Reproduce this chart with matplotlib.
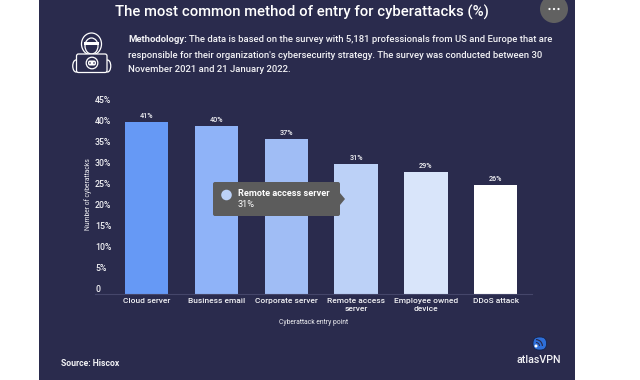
import matplotlib
matplotlib.use("Agg")
import matplotlib.pyplot as plt
from matplotlib.patches import Circle, Ellipse, FancyBboxPatch, Polygon, Rectangle, Wedge

categories = [
    "Cloud server",
    "Business email",
    "Corporate server",
    "Remote access\nserver",
    "Employee owned\ndevice",
    "DDoS attack",
]
values = [41, 40, 37, 31, 29, 26]
bar_colors = ["#6699f5", "#8fb3f8", "#a0bdf5", "#bcd1f7", "#d9e5fa", "#ffffff"]
tick_values = [0, 5, 10, 15, 20, 25, 30, 35, 40, 45]
tick_labels = ["0", "5%", "10%", "15%", "20%", "25%", "30%", "35%", "40%", "45%"]

W, H = 640, 380
NAVY = "#2a2b4d"
TEXT = "#f2f2f5"
GREY = "#5c5c5c"

plt.rcParams["font.family"] = ["Roboto", "DejaVu Sans"]

fig = plt.figure(figsize=(W / 100, H / 100), dpi=100, facecolor="white")

# overlay in pixel coordinates (y down) for panel, text and decorations
bg = fig.add_axes([0, 0, 1, 1])
bg.set_xlim(0, W)
bg.set_ylim(H, 0)
bg.axis("off")
bg.add_patch(Rectangle((38.5, 0), 536.5, H, fc=NAVY, ec="none"))

bg.text(302, 12, "The most common method of entry for cyberattacks (%)", color="white",
        fontsize=10.7, fontweight="medium", ha="center", va="center")

bg.text(128, 40, "Methodology:", color=TEXT, fontsize=6.8, fontweight="bold", va="center")
bg.text(189, 40, "The data is based on the survey with 5,181 professionals from US and Europe that are",
        color=TEXT, fontsize=6.8, fontweight="medium", va="center")
bg.text(128, 55, "responsible for their organization's cybersecurity strategy. The survey was conducted between 30",
        color=TEXT, fontsize=6.8, fontweight="medium", va="center")
bg.text(128, 69, "November 2021 and 21 January 2022.", color=TEXT, fontsize=6.8,
        fontweight="medium", va="center")

# hacker icon
line = dict(fc="none", ec="white", lw=0.9)
bg.add_patch(Ellipse((91.5, 44), 20, 22, **line))
bg.add_patch(Ellipse((91.5, 46), 13, 16, **line))
bg.add_patch(Rectangle((84, 41.5), 15, 3.5, fc="white", ec="none"))
bg.add_patch(Ellipse((76, 66), 6.5, 12, **line))
bg.add_patch(Ellipse((107.5, 66), 6.5, 12, **line))
bg.add_patch(FancyBboxPatch((76.5, 54), 30.5, 18.5, boxstyle="round,pad=0,rounding_size=2",
                            fc=NAVY, ec="white", lw=0.9))
bg.add_patch(Circle((92, 63), 5.8, **line))
bg.add_patch(FancyBboxPatch((88, 60.5), 8, 5, boxstyle="round,pad=0,rounding_size=2",
                            fc="white", ec="none"))
bg.add_patch(Circle((90, 63), 0.8, fc=NAVY, ec="none"))
bg.add_patch(Circle((94, 63), 0.8, fc=NAVY, ec="none"))

# menu button
bg.add_patch(Circle((554, 9), 14, fc="#616161", ec="none"))
for dx in (-4.5, 0, 4.5):
    bg.add_patch(Circle((554 + dx, 9), 1.1, fc="white", ec="none"))

bg.text(61, 363, "Source: Hiscox", color=TEXT, fontsize=6.2, fontweight="bold", va="center")

# logo
bg.add_patch(FancyBboxPatch((533, 337), 13.5, 13, boxstyle="round,pad=0,rounding_size=6",
                            fc="#2e6fd9", ec="#15244d", lw=0.6))
bg.add_patch(Wedge((536, 346), 7, -90, 0, width=1.2, fc=NAVY, ec="none"))
bg.add_patch(Wedge((536, 346), 4, -90, 0, width=1.0, fc=NAVY, ec="none"))
bg.add_patch(Circle((536, 346), 1.5, fc="white", ec="none"))
bg.text(538.7, 360, "atlasVPN", color=TEXT, fontsize=7.7, fontweight="medium", ha="center", va="center")

# chart: 69.8 px per category, 4.18 px per percent
ax = fig.add_axes([95 / W, 1 - 293.5 / H, 437 / W, 188.1 / H])
ax.patch.set_alpha(0)
x = list(range(len(categories)))
bars = ax.bar(x, values, width=0.623, color=bar_colors, zorder=2)
ax.set_xlim(-0.74, 5.52)
ax.set_ylim(0, 45)
for spine in ["top", "right", "left"]:
    ax.spines[spine].set_visible(False)
ax.spines["bottom"].set_color("#45466a")
ax.spines["bottom"].set_linewidth(0.8)
ax.set_xticks(x, categories, color=TEXT, fontsize=6.0, fontweight="medium", linespacing=1.35)
ax.tick_params(axis="x", length=0, pad=3.2)
ax.set_yticks(tick_values, tick_labels, color=TEXT, fontsize=6.3, fontweight="medium", va="bottom")
ax.tick_params(axis="y", length=0, pad=0)
for lab in ax.get_yticklabels():
    lab.set_ha("left")
for xi, v in zip(x, values):
    ax.annotate(f"{v}%", (xi, v), xytext=(0, 1.6), textcoords="offset points", ha="center",
                va="bottom", color=TEXT, fontsize=5.2, fontweight="medium")

bg.text(88.5, 194.5, "Number of cyberattacks", color=TEXT, fontsize=4.9, rotation=90,
        ha="center", va="center")
bg.text(313.7, 323, "Cyberattack entry point", color=TEXT, fontsize=4.9, ha="center", va="center")

# tooltip on top of the bars
top = fig.add_axes([0, 0, 1, 1], zorder=5)
top.set_xlim(0, W)
top.set_ylim(H, 0)
top.axis("off")
top.add_patch(FancyBboxPatch((213, 182), 127, 34, boxstyle="round,pad=0,rounding_size=2",
                             fc=GREY, ec="none"))
top.add_patch(Polygon([[340, 193], [345, 199], [340, 205]], fc=GREY, ec="none"))
top.add_patch(Circle((226.5, 195), 5.3, fc=bar_colors[3], ec="none"))
top.text(238, 194, "Remote access server", color="white", fontsize=6.6, fontweight="bold", va="center")
top.text(238, 204.5, f"{values[3]}%", color="white", fontsize=6.6, va="center")

fig.savefig("out.png", dpi=100, facecolor="white")
